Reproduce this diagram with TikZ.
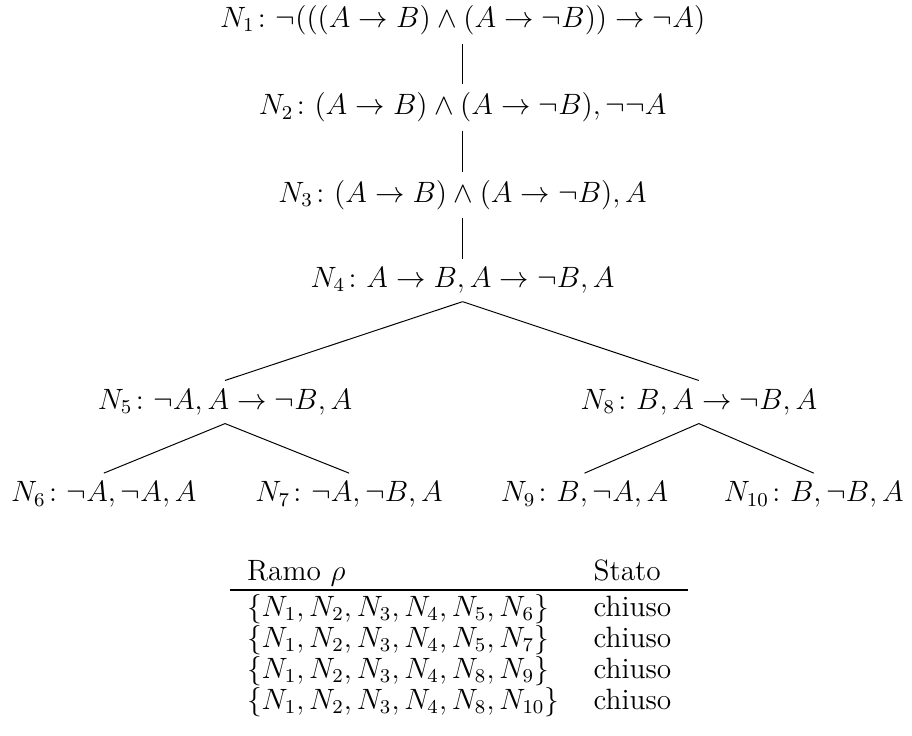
\documentclass[tikz,border=0pt]{standalone}
\usepackage{amsmath}
\usepackage{amssymb}
\usepackage{booktabs}

\begin{document}
\begin{tikzpicture}[every node/.style={font=\large}]
  \useasboundingbox (0,0) rectangle (13.09,-10.55);
  \node (n1) at (6.64,-0.29) {$N_1\colon \neg(((A\to B)\wedge(A\to\neg B))\to\neg A)$};
  \node (n2) at (6.64,-1.54) {$N_2\colon (A\to B)\wedge(A\to\neg B),\neg\neg A$};
  \node (n3) at (6.64,-2.80) {$N_3\colon (A\to B)\wedge(A\to\neg B),A$};
  \node (n4) at (6.64,-4.02) {$N_4\colon A\to B,A\to\neg B,A$};
  \node (n5) at (3.23,-5.77) {$N_5\colon \neg A,A\to\neg B,A$};
  \node (n8) at (10.03,-5.77) {$N_8\colon B,A\to\neg B,A$};
  \node (n6) at (1.49,-7.10) {$N_6\colon \neg A,\neg A,A$};
  \node (n7) at (5.01,-7.10) {$N_7\colon \neg A,\neg B,A$};
  \node (n9) at (8.39,-7.10) {$N_9\colon B,\neg A,A$};
  \node (n10) at (11.68,-7.10) {$N_{10}\colon B,\neg B,A$};
  \draw (n1)--(n2); \draw (n2)--(n3); \draw (n3)--(n4);
  \draw (n4.south)--(n5.north); \draw (n4.south)--(n8.north);
  \draw (n5.south)--(n6.north); \draw (n5.south)--(n7.north);
  \draw (n8.south)--(n9.north); \draw (n8.south)--(n10.north);
  \node (tab) at (6.59,-9.17) {\renewcommand{\arraystretch}{0.88}%
  \setlength{\tabcolsep}{7pt}\setlength{\aboverulesep}{0pt}\setlength{\belowrulesep}{1.5pt}%
  \begin{tabular}{ll}
    Ramo $\rho$ & Stato\\ \midrule
    $\{N_1,N_2,N_3,N_4,N_5,N_6\}$ & chiuso\\
    $\{N_1,N_2,N_3,N_4,N_5,N_7\}$ & chiuso\\
    $\{N_1,N_2,N_3,N_4,N_8,N_9\}$ & chiuso\\
    $\{N_1,N_2,N_3,N_4,N_8,N_{10}\}$ & chiuso
  \end{tabular}};
\end{tikzpicture}
\end{document}
